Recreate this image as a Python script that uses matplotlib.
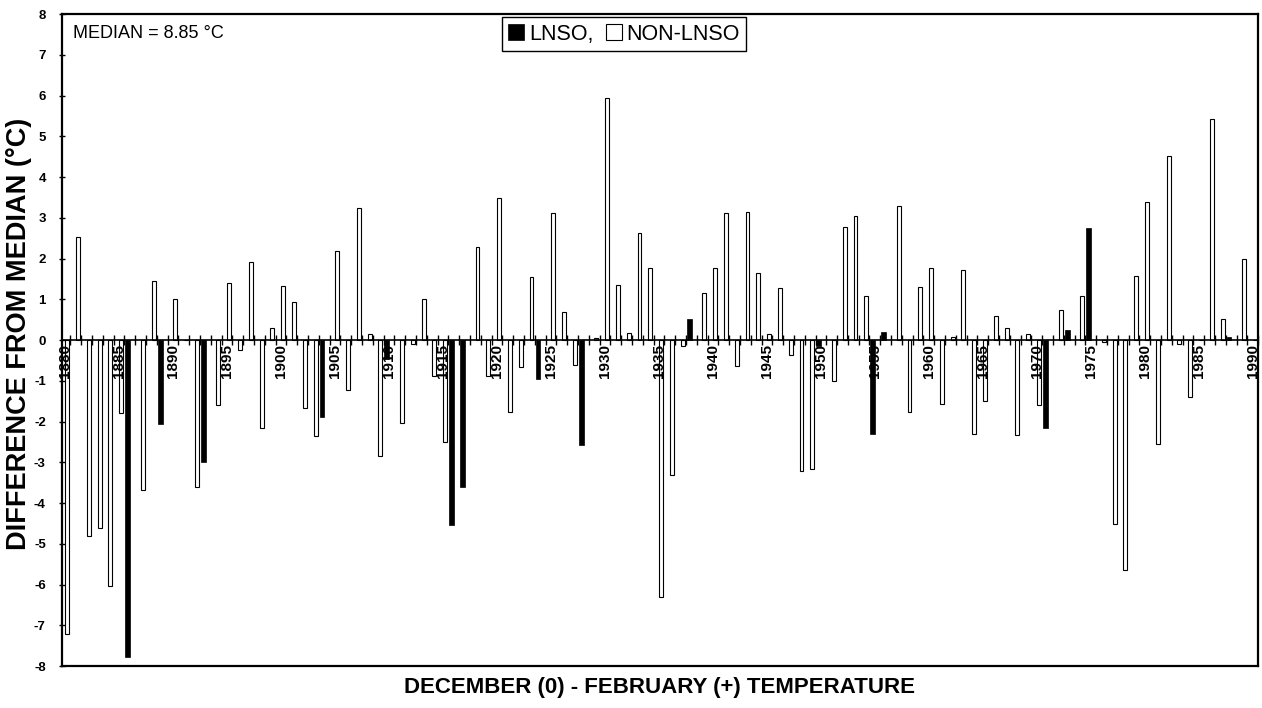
import numpy as np
import matplotlib.pyplot as plt

plt.rcParams['font.family'] = ['Liberation Sans', 'DejaVu Sans']

# December-February temperature, difference from median (deg C)
years = np.arange(1880, 1991)
diff = np.array([
    -7.2, 2.53, -4.8, -4.6, -6.03, -1.78, -7.78, -3.67, 1.46, -2.05,   # 1880-1889
    1.0, 0.0, -3.6, -2.98, -1.6, 1.4, -0.24, 1.92, -2.15, 0.31,        # 1890-1899
    1.33, 0.93, -1.67, -2.35, -1.88, 2.19, -1.23, 3.25, 0.15, -2.85,   # 1900-1909
    -0.45, -2.02, -0.1, 1.0, -0.87, -2.5, -4.53, -3.6, 2.29, -0.87,    # 1910-1919
    3.5, -1.77, -0.65, 1.56, -0.95, 3.12, 0.7, -0.6, -2.58, 0.05,      # 1920-1929
    5.95, 1.36, 0.18, 2.62, 1.76, -6.3, -3.3, -0.14, 0.52, 1.15,       # 1930-1939
    1.76, 3.12, -0.63, 3.15, 1.65, 0.14, 1.28, -0.36, -3.2, -3.15,     # 1940-1949
    -0.15, -1.0, 2.78, 3.05, 1.09, -2.3, 0.2, 3.3, -1.77, 1.3,         # 1950-1959
    1.78, -1.57, 0.08, 1.72, -2.3, -1.5, 0.6, 0.3, -2.33, 0.15,        # 1960-1969
    -1.6, -2.15, 0.75, 0.25, 1.08, 2.75, -0.05, -4.5, -5.65, 1.57,     # 1970-1979
    3.38, -2.55, 4.52, -0.1, -1.4, 0.0, 5.42, 0.52, 0.08, 2.0,         # 1980-1989
    0.0,                                                               # 1990
])
lnso_years = [1886, 1889, 1893, 1904, 1910, 1916, 1917, 1924, 1928, 1938,
              1950, 1955, 1956, 1971, 1973, 1975, 1988]
label_years = list(range(1880, 1991, 5))
y_ticks = list(range(-8, 9))
median_text = 'MEDIAN = 8.85 °C'

is_lnso = np.isin(years, lnso_years)

fig = plt.figure(figsize=(12.62, 7.08), dpi=100)
ax = fig.add_axes([0.049, 0.059, 0.948, 0.921])

h_non = ax.bar(years[~is_lnso] + 0.2, diff[~is_lnso], width=0.36,
               color='white', edgecolor='black', linewidth=0.8)
h_lnso = ax.bar(years[is_lnso] - 0.2, diff[is_lnso], width=0.45,
                color='black', edgecolor='black', linewidth=0.5)

ax.set_xlim(1879.7, 1990.5)
ax.set_ylim(-8, 8)
ax.set_xticks([])
ax.set_yticks(y_ticks, labels=[str(v) for v in y_ticks], fontweight='bold')
ax.tick_params(axis='y', direction='inout', length=5, width=1, labelsize=9.5, pad=9)
for sp in ax.spines.values():
    sp.set_linewidth(1.6)

# zero line with year ticks, drawn as a secondary x axis at the middle
secax = ax.secondary_xaxis(0.4999)
secax.set_zorder(3)
secax.patch.set_visible(False)
secax.xaxis.set_ticks_position('bottom')
secax.spines['bottom'].set_linewidth(1.2)
secax.set_xticks(label_years, labels=[str(y) for y in label_years],
                 rotation=90, fontweight='bold', fontsize=11)
secax.set_xticks(np.append(years - 0.5, years[-1] + 0.5), minor=True)
secax.tick_params(axis='x', which='major', length=0, pad=3)
secax.tick_params(axis='x', which='minor', direction='inout', length=7, width=1)

ax.text(0.009, 0.984, median_text, transform=ax.transAxes,
        ha='left', va='top', fontsize=13)

leg = ax.legend([h_lnso, h_non], ['LNSO,', 'NON-LNSO'], ncol=2,
                loc='upper center', bbox_to_anchor=(0.47, 0.995), borderaxespad=0,
                fancybox=False, edgecolor='black', framealpha=1,
                handlelength=0.75, handleheight=0.75, handletextpad=0.2,
                columnspacing=0.6, borderpad=0.3, fontsize=15.5)
leg.get_frame().set_linewidth(1.0)

fig.text(19 / 1262, 1 - 334 / 708, 'DIFFERENCE FROM MEDIAN (°C)', rotation=90,
         ha='center', va='center', fontsize=19.5, fontweight='bold')
fig.text(660 / 1262, 1 - 688 / 708, 'DECEMBER (0) - FEBRUARY (+) TEMPERATURE',
         ha='center', va='center', fontsize=16, fontweight='bold')

fig.savefig('out.png', dpi=100)
